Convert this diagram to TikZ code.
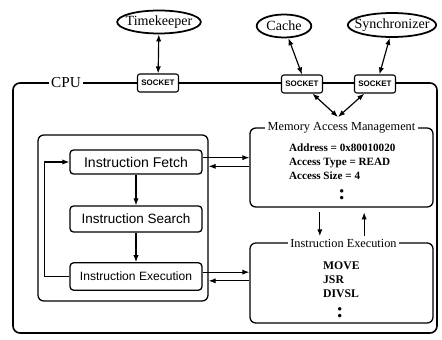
\documentclass[tikz,border=0pt]{standalone}
\usepackage{fontspec}
\setmainfont{Liberation Serif}
\setsansfont{Liberation Sans}
\usetikzlibrary{shapes,arrows.meta}
\tikzstyle{ovale}=[ellipse,draw=black,line width=1.5pt,inner sep=1pt,font=\fontsize{12}{14}\selectfont]
\tikzstyle{presa}=[rectangle,rounded corners=2pt,draw=black,line width=.9pt,fill=white,minimum width=1.23cm,minimum height=.54cm,inner sep=0pt,font=\sffamily\bfseries\fontsize{6.8}{7}\selectfont]
\tikzstyle{blocco}=[rectangle,rounded corners=3pt,draw=black,line width=1.1pt,minimum width=3.96cm,minimum height=.75cm,font=\sffamily]
\tikzstyle{cornice}=[rectangle,rounded corners=5pt,draw=black,line width=1.1pt]
\tikzstyle{titolo}=[fill=white,inner sep=2pt,font=\fontsize{10.5}{12}\selectfont]
\tikzstyle{puntini}=[inner sep=0pt,font=\bfseries\fontsize{18}{18}\selectfont]
\tikzstyle{freccia}=[-{Latex[length=6pt,width=4.5pt]},line width=1pt]
\tikzstyle{doppia}=[{Latex[length=6pt,width=4.5pt]}-{Latex[length=6pt,width=4.5pt]},line width=1pt]

\begin{document}
\begin{tikzpicture}[x=.03cm,y=-.03cm]
\useasboundingbox (0,0) rectangle (442,340);
\node[cornice,line width=1.4pt,rounded corners=6pt,minimum width=12.72cm,minimum height=7.5cm] (cpu) at (225,208) {};
\node[titolo,font=\fontsize{13}{15}\selectfont] (cput) at (66,83) {CPU};
\node[cornice,minimum width=5.1cm,minimum height=4.98cm] (core) at (123,218) {};
\node[cornice,minimum width=5.49cm,minimum height=2.37cm] (mam) at (341.5,167.5) {};
\node[cornice,minimum width=5.49cm,minimum height=2.4cm] (iex) at (341.5,283) {};
\node[titolo] (mamt) at (341.5,128) {Memory Access Management};
\node[titolo] (iext) at (343.5,243) {Instruction Execution};

\node[ovale,inner xsep=-3.2pt,minimum height=.69cm] (tk) at (159,22) {Timekeeper};
\node[ovale,inner xsep=1.5pt,minimum height=.69cm] (cache) at (284,26) {Cache};
\node[ovale,inner xsep=-5.3pt,minimum height=.72cm] (sync) at (392,25) {Synchronizer};
\node[presa] (s1) at (158,83) {SOCKET};
\node[presa] (s2) at (302,84) {SOCKET};
\node[presa] (s3) at (375,84) {SOCKET};
\coordinate (m) at (338,117);

\node[blocco,font=\sffamily\fontsize{12}{14}\selectfont,minimum height=.72cm] (fetch) at (136,162) {Instruction Fetch};
\node[blocco,font=\sffamily\fontsize{11.5}{14}\selectfont,minimum height=.78cm] (search) at (136,219) {Instruction Search};
\node[blocco,font=\sffamily\fontsize{10.3}{12}\selectfont,minimum height=.82cm] (exec) at (136,276.5) {Instruction Execution};

\node[anchor=west,align=left,font=\bfseries\fontsize{9.5}{12}\selectfont] (mamtxt) at (285,162) {Address = 0x80010020\\Access Type = READ\\Access Size = 4};
\node[puntini] (mamdots) at (342,195) {:};
\node[anchor=west,align=left,font=\bfseries\fontsize{10}{12}\selectfont] (iextxt) at (319,280) {MOVE\\JSR\\DIVSL};
\node[puntini] (iexdots) at (340,313) {:};

\draw[doppia] (tk) -- (s1);
\draw[doppia] (cache.-70) -- (s2.north);
\draw[doppia] (sync.-100) -- (s3.65);
\draw[doppia] (s2) -- (m);
\draw[doppia] (s3) -- (m);

\draw[freccia] (fetch) -- (search);
\draw[freccia] (search) -- (exec);
\draw[freccia] (exec.west) -- ++(-.75cm,0) |- (fetch.west);

\draw[freccia] ([yshift=.13cm]fetch.east) -- ([yshift=.13cm]fetch.east -| mam.west);
\draw[freccia] ([yshift=-.13cm]fetch.east -| mam.west) -- ([yshift=-.13cm]fetch.east -| core.east);
\draw[freccia] ([yshift=.13cm]exec.east) -- ([yshift=.13cm]exec.east -| iex.west);
\draw[freccia] ([yshift=-.13cm]exec.east -| iex.west) -- ([yshift=-.13cm]exec.east -| core.east);

\draw[freccia,shorten <=4pt] ([xshift=-.65cm]mam.south) -- ([xshift=-.65cm]mam.south |- iext.north);
\draw[freccia,shorten >=4pt] ([xshift=.68cm]mam.south |- iext.north) -- ([xshift=.68cm]mam.south);
\end{tikzpicture}
\end{document}
